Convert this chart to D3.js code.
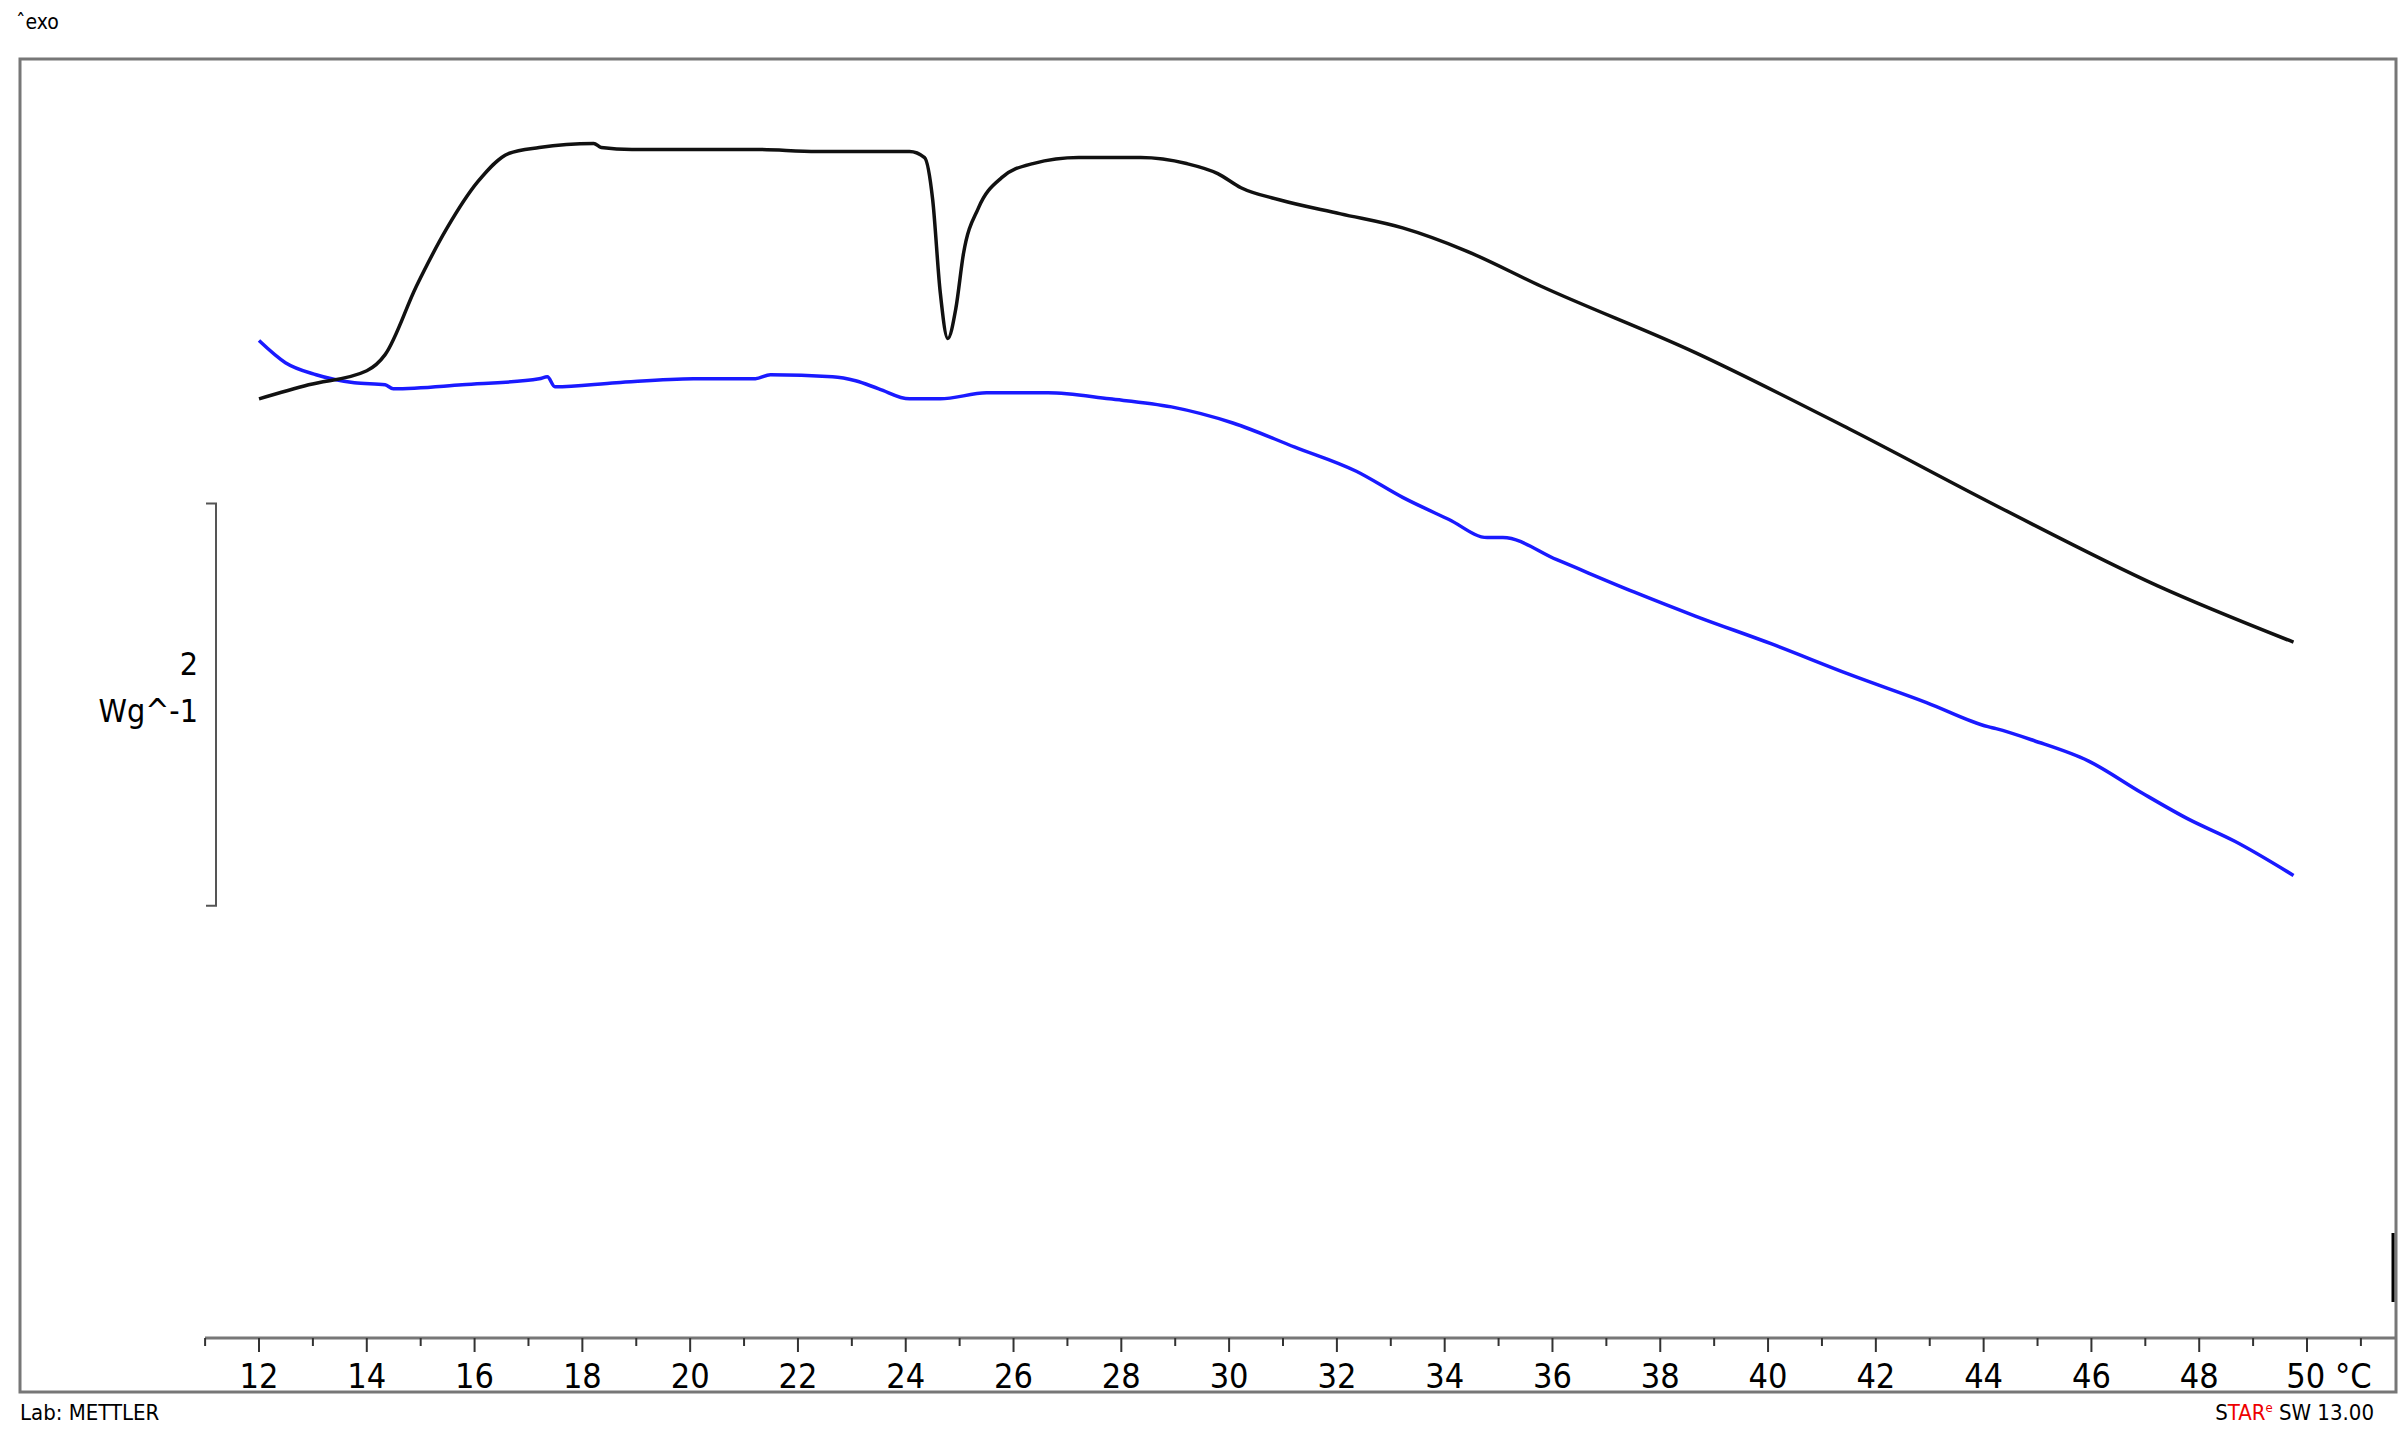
<!DOCTYPE html>
<html>
<head>
<meta charset="utf-8">
<script src="https://cdn.jsdelivr.net/npm/d3@7"></script>
<style>
  body { margin: 0; background: #fff; }
  text { font-family: "DejaVu Sans Condensed", "DejaVu Sans", sans-serif; }
</style>
</head>
<body>
<div id="chart"></div>
<script>
// temperature (°C) and heat flow (W/g, relative to axis baseline)
const blackT = [12.00,12.92,14.00,14.34,14.92,15.49,16.06,16.63,17.20,18.21,18.35,18.92,20.06,21.21,22.35,24.07,24.35,24.50,24.64,24.78,24.93,25.07,25.35,25.78,26.36,27.21,28.36,29.21,29.79,30.22,30.93,32.07,33.22,34.36,35.79,38.65,41.51,44.37,47.23,49.75];
const blackV = [4.67,4.74,4.81,4.89,5.23,5.52,5.75,5.89,5.92,5.94,5.92,5.91,5.91,5.91,5.90,5.90,5.87,5.66,5.20,4.97,5.12,5.39,5.62,5.77,5.84,5.87,5.87,5.84,5.79,5.72,5.66,5.59,5.52,5.41,5.23,4.90,4.52,4.12,3.74,3.46];
const blueT = [12.00,12.49,13.06,13.77,14.34,14.49,15.77,17.20,17.35,17.49,18.63,20.06,21.21,21.49,22.64,23.07,23.50,24.07,24.64,25.50,26.64,27.78,28.93,30.07,31.22,32.36,33.22,34.08,34.79,35.08,36.08,37.51,38.65,40.08,41.51,42.94,44.08,44.23,44.94,45.94,46.94,47.80,48.66,49.75];
const blueV = [4.96,4.85,4.79,4.75,4.74,4.72,4.74,4.77,4.78,4.73,4.75,4.77,4.77,4.79,4.78,4.76,4.72,4.67,4.67,4.70,4.70,4.67,4.63,4.55,4.43,4.31,4.18,4.07,3.98,3.98,3.87,3.71,3.59,3.45,3.30,3.16,3.04,3.03,2.97,2.87,2.71,2.58,2.47,2.30];
const xTicks = [12,14,16,18,20,22,24,26,28,30,32,34,36,38,40,42,44,46,48,50];
const scaleBar = [2.15, 4.15];

const W = 2404, H = 1434;
const svg = d3.select("#chart").append("svg").attr("width", W).attr("height", H);

const x = d3.scaleLinear().domain([12, 50]).range([259, 2307]);
const y = d3.scaleLinear().domain([0, 6.36]).range([1338, 59]);

// frame
svg.append("rect").attr("x", 20).attr("y", 59).attr("width", 2376).attr("height", 1333)
    .attr("fill", "none").attr("stroke", "#777").attr("stroke-width", 3);
svg.append("line").attr("x1", 2393).attr("x2", 2393).attr("y1", 1233).attr("y2", 1302)
    .attr("stroke", "#000").attr("stroke-width", 3);

// x axis
svg.append("line").attr("x1", 205).attr("x2", 2396).attr("y1", 1338).attr("y2", 1338)
    .attr("stroke", "#777").attr("stroke-width", 3);
const minor = d3.range(11, 52, 1);
svg.selectAll(".tk").data(minor).enter().append("line")
    .attr("x1", d => x(d)).attr("x2", d => x(d))
    .attr("y1", 1338).attr("y2", d => d % 2 === 0 ? 1352 : 1346)
    .attr("stroke", "#333").attr("stroke-width", 2);
svg.selectAll(".tl").data(xTicks).enter().append("text")
    .attr("x", d => x(d)).attr("y", 1388)
    .attr("text-anchor", "middle").attr("font-size", 34)
    .text(d => d === 50 ? "50 °C" : d)
    .attr("dx", d => d === 50 ? 22 : 0);

// scale bar
svg.append("path")
    .attr("d", `M206,${y(scaleBar[1])}H216V${y(scaleBar[0])}H206`)
    .attr("fill", "none").attr("stroke", "#555").attr("stroke-width", 2);
svg.append("text").attr("x", 198).attr("y", 675).attr("text-anchor", "end")
    .attr("font-size", 32).text("2");
svg.append("text").attr("x", 198).attr("y", 722).attr("text-anchor", "end")
    .attr("font-size", 32).text("Wg^-1");

// lines
const line = d3.line().curve(d3.curveMonotoneX).x(d => x(d[0])).y(d => y(d[1]));
svg.append("path").datum(d3.zip(blueT, blueV)).attr("d", line)
    .attr("fill", "none").attr("stroke", "#1a1aff").attr("stroke-width", 3.5);
svg.append("path").datum(d3.zip(blackT, blackV)).attr("d", line)
    .attr("fill", "none").attr("stroke", "#111").attr("stroke-width", 3.5);

// annotations
svg.append("text").attr("x", 16).attr("y", 29).attr("font-size", 21)
    .attr("font-family", "DejaVu Sans").text("ˆexo");
svg.append("text").attr("x", 20).attr("y", 1420).attr("font-size", 22).text("Lab: METTLER");
const star = svg.append("text").attr("x", 2374).attr("y", 1420).attr("text-anchor", "end").attr("font-size", 22);
star.append("tspan").text("S");
star.append("tspan").attr("fill", "#e00").text("TAR");
star.append("tspan").attr("fill", "#e00").attr("font-size", 13).attr("dy", -8).text("e");
star.append("tspan").attr("dy", 8).text(" SW 13.00");
</script>
</body>
</html>
